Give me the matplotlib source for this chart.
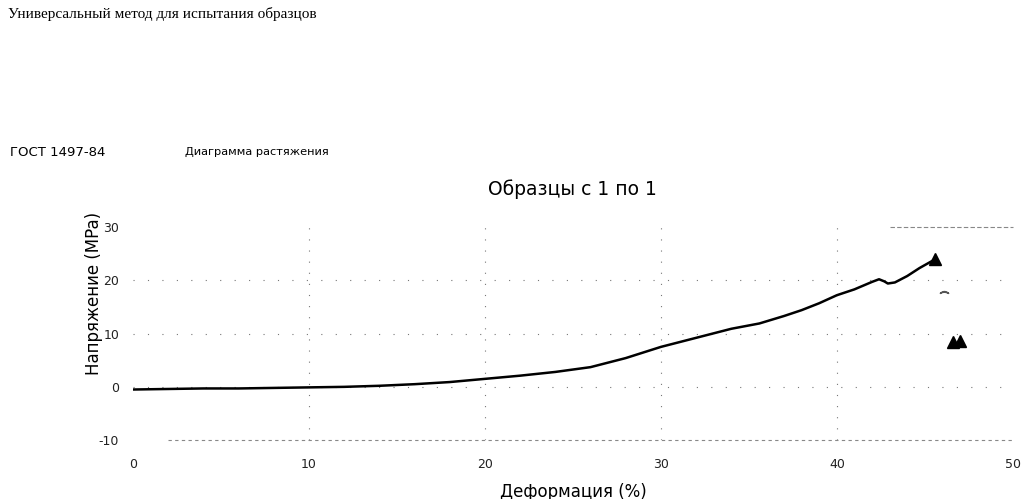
import matplotlib
matplotlib.use("Agg")
from matplotlib import pyplot as plt

plt.rcParams['axes.unicode_minus'] = False

# stress-strain curve
strain = [0, 2, 4, 6, 8, 10, 12, 14, 16, 18, 20, 22, 24, 26, 28, 30, 32, 34,
          35.6, 37, 38, 39, 40, 41, 41.5, 42, 42.4, 42.7, 42.9, 43.3, 44, 44.7, 45.4]
stress = [-0.5, -0.4, -0.3, -0.3, -0.2, -0.1, 0.0, 0.2, 0.5, 0.9, 1.5, 2.1, 2.8, 3.7, 5.4, 7.5, 9.2, 10.9,
          11.9, 13.3, 14.4, 15.7, 17.2, 18.3, 19.0, 19.7, 20.2, 19.8, 19.4, 19.6, 20.8, 22.3, 23.6]

# markers
peak_x = [45.6]
peak_y = [24.0]
break_x = [46.6, 47.0]
break_y = [8.5, 8.7]
arc_x = [46.1]
arc_y = [17.8]

xticks = [0, 10, 20, 30, 40, 50]
yticks = [-10, 0, 10, 20, 30]

fig = plt.figure(figsize=(10.24, 4.99), dpi=100)
ax = fig.add_axes([0.130, 0.118, 0.859, 0.427])

grid_kw = dict(color='#777777', lw=0.8, zorder=0)
for y in [0, 10, 20]:
    ax.axhline(y, linestyle=(0, (1, 12)), **grid_kw)
for x in [10, 20, 30, 40]:
    ax.axvline(x, linestyle=(0, (1, 9)), **grid_kw)
ax.axhline(-10, xmin=0.04, linestyle=(0, (3, 3)), color='#888888', lw=0.8, zorder=0, clip_on=False)
ax.axhline(30, xmin=0.86, linestyle=(0, (4, 2)), color='#888888', lw=0.8, zorder=0, clip_on=False)

ax.plot(strain, stress, color='black', lw=1.8)
ax.plot(peak_x, peak_y, '^', color='black', ms=8)
ax.plot(break_x, break_y, '^', color='black', ms=8)
ax.plot(arc_x, arc_y, marker=r'$\frown$', color='#555555', ms=6, ls='none')

ax.set_xlim(0, 50)
ax.set_ylim(-10, 30)
ax.set_xticks(xticks)
ax.set_yticks(yticks)
ax.tick_params(length=0, labelsize=9, colors='#222222')
ax.tick_params(axis='x', pad=13)
ax.tick_params(axis='y', pad=10)
for s in ax.spines.values():
    s.set_visible(False)

ax.set_xlabel('Деформация (%)', fontsize=12)
ax.xaxis.set_label_coords(0.5, -0.20)
ax.set_ylabel('Напряжение (MPa)', fontsize=12)
ax.yaxis.set_label_coords(-0.034, 0.69)
ax.set_title('Образцы с 1 по 1', fontsize=13.5, pad=23)

fig.text(0.008, 0.972, 'Универсальный метод для испытания образцов',
         family='Liberation Serif', fontsize=11, va='center')
fig.text(0.010, 0.695, 'ГОСТ 1497-84', fontsize=9.5, va='center')
fig.text(0.181, 0.695, 'Диаграмма растяжения', fontsize=8.2, va='center')

fig.savefig('out.png', dpi=100)
